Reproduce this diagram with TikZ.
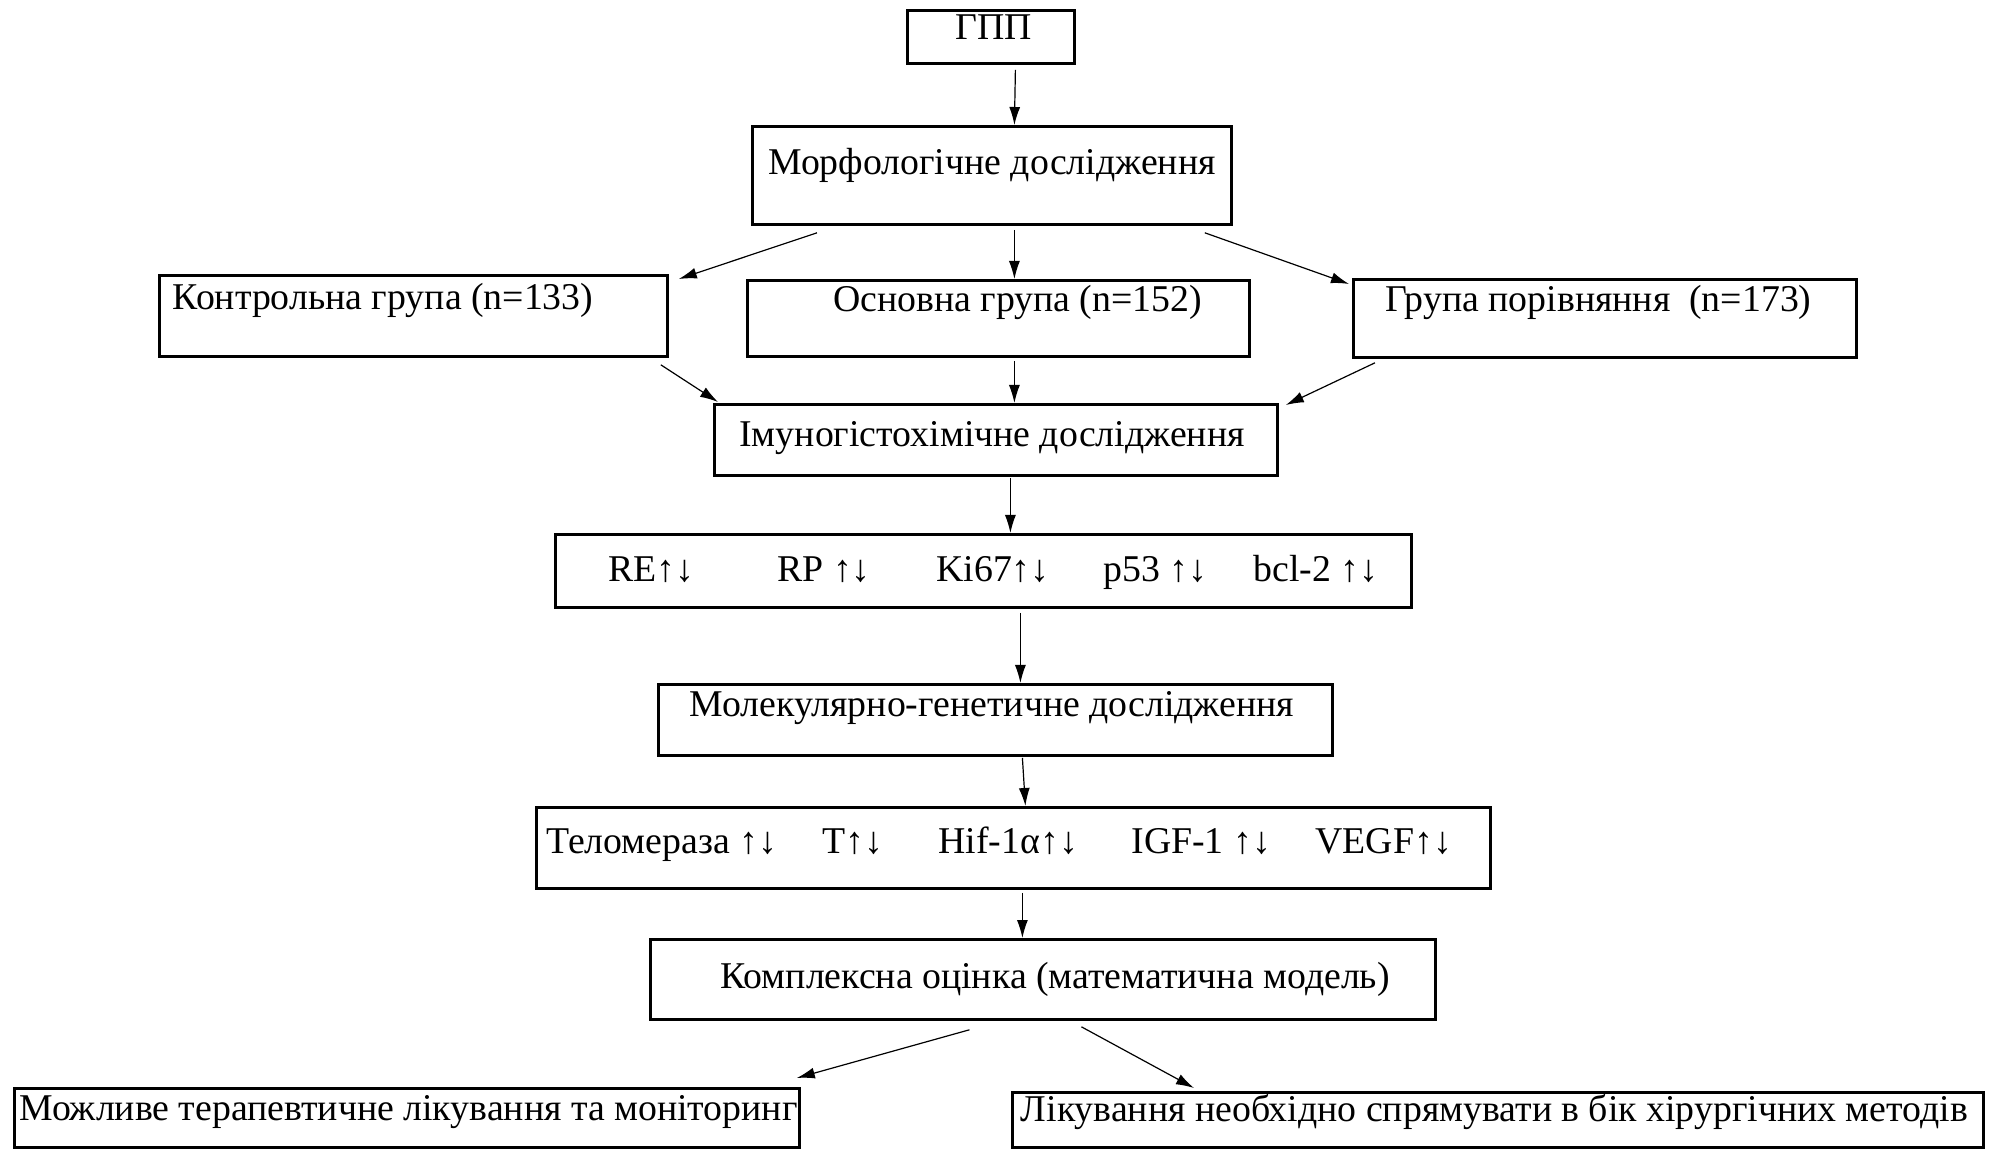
\documentclass[tikz,border=0pt]{standalone}
\usepackage{fontspec}
\setmainfont{Liberation Serif}
\usetikzlibrary{arrows.meta}
\tikzset{
  box/.style={draw, line width=1.4pt, anchor=north west, inner sep=0pt},
  txt/.style={anchor=base, inner sep=0pt, font=\fontsize{18.9pt}{22pt}\selectfont},
  arr/.style={-{Latex[length=9pt,width=5.5pt]}, line width=0.6pt}
}
\begin{document}
\begin{tikzpicture}[x=0.5pt,y=-0.5pt]
\useasboundingbox (0,0) rectangle (1992,1149);
\node[box, minimum width=83.5pt, minimum height=26.5pt] (gpp)     at (906,9)    {};
\node[box, minimum width=239.5pt, minimum height=49pt]  (morph)   at (751,125)  {};
\node[box, minimum width=254pt, minimum height=40.5pt]  (control) at (158,274)  {};
\node[box, minimum width=251pt, minimum height=38pt]    (main)    at (746,279)  {};
\node[box, minimum width=251.5pt, minimum height=39pt]  (compar)  at (1352,278) {};
\node[box, minimum width=281.5pt, minimum height=35.5pt] (immuno) at (713,403)  {};
\node[box, minimum width=428pt, minimum height=36.5pt]  (ihc)     at (554,533)  {};
\node[box, minimum width=337pt, minimum height=35.5pt]  (molgen)  at (657,683)  {};
\node[box, minimum width=477pt, minimum height=40.5pt]  (molmark) at (535,806)  {};
\node[box, minimum width=392.5pt, minimum height=40pt]  (complex) at (649,938)  {};
\node[box, minimum width=392.5pt, minimum height=29.5pt] (therapy) at (13,1087) {};
\node[box, minimum width=485.5pt, minimum height=27.5pt] (surgery) at (1011,1091) {};

\node[txt] (gpp-t)     at (993.5,40)  {ГПП};
\node[txt] (morph-t)   at (992,175)   {Морфологічне дослідження};
\node[txt] (control-t) at (383,310)   {Контрольна група (n=133)};
\node[txt] (main-t)    at (1017.5,312) {Основна група (n=152)};
\node[txt] (compar-t)  at (1598.5,312) {Група порівняння~ (n=173)};
\node[txt] (immuno-t)  at (992,447)   {Імуногістохімічне дослідження};
\node[txt, anchor=base west] (ihc-t) at (608,582)
  {\makebox[84.5pt][l]{RE↑↓}\makebox[79.5pt][l]{RP ↑↓}\makebox[83.5pt][l]{Ki67↑↓}\makebox[75pt][l]{p53 ↑↓}bcl-2 ↑↓};
\node[txt] (molgen-t)  at (992,717)   {Молекулярно-генетичне дослідження};
\node[txt, anchor=base west] (molmark-t) at (546,853)
  {\makebox[138pt][l]{Теломераза ↑↓}\makebox[58pt][l]{T↑↓}\makebox[96.5pt][l]{Hif-1α↑↓}\makebox[92pt][l]{IGF-1 ↑↓}VEGF↑↓};
\node[txt] (complex-t) at (1055,988)  {Комплексна оцінка (математична модель)};
\node[txt] (therapy-t) at (408.5,1120) {Можливе терапевтичне лікування та моніторинг};
\node[txt] (surgery-t) at (1494.5,1121) {Лікування необхідно спрямувати в бік хірургічних методів};

\draw[arr] ([xshift=12.25pt,yshift=-2.5pt]gpp.south) -- ([xshift=11.25pt]morph.north);
\draw[arr] ([xshift=33pt,yshift=-3.5pt]morph.south west) -- ([xshift=5pt,yshift=-2.5pt]control.north east);
\draw[arr] ([xshift=11.25pt,yshift=-2pt]morph.south) -- ([xshift=8pt]main.north);
\draw[arr] ([xshift=-14pt,yshift=-3.5pt]morph.south east) -- ([xshift=-1.5pt,yshift=-3pt]compar.north west);
\draw[arr] ([xshift=-4pt,yshift=-3.5pt]control.south east) -- ([xshift=2.5pt,yshift=0.5pt]immuno.north west);
\draw[arr] ([xshift=8pt,yshift=-1.5pt]main.south) -- ([xshift=9.25pt]immuno.north);
\draw[arr] ([xshift=11.5pt,yshift=-2pt]compar.south west) -- ([xshift=3.5pt,yshift=-1pt]immuno.north east);
\draw[arr] ([xshift=7.25pt,yshift=-0.5pt]immuno.south) -- ([xshift=13.5pt]ihc.north);
\draw[arr] ([xshift=18.5pt,yshift=-2pt]ihc.south) -- ([xshift=12.5pt]molgen.north);
\draw[arr] ([xshift=13.5pt,yshift=-0.5pt]molgen.south) -- ([xshift=6pt]molmark.north);
\draw[arr] ([xshift=4.5pt,yshift=-1.5pt]molmark.south) -- ([xshift=-10.25pt]complex.north);
\draw[arr] ([xshift=-36.75pt,yshift=-4.5pt]complex.south) -- ([xshift=-2pt,yshift=4.5pt]therapy.north east);
\draw[arr] ([xshift=19.25pt,yshift=-3pt]complex.south) -- ([xshift=91.5pt,yshift=1.5pt]surgery.north west);
\end{tikzpicture}
\end{document}
